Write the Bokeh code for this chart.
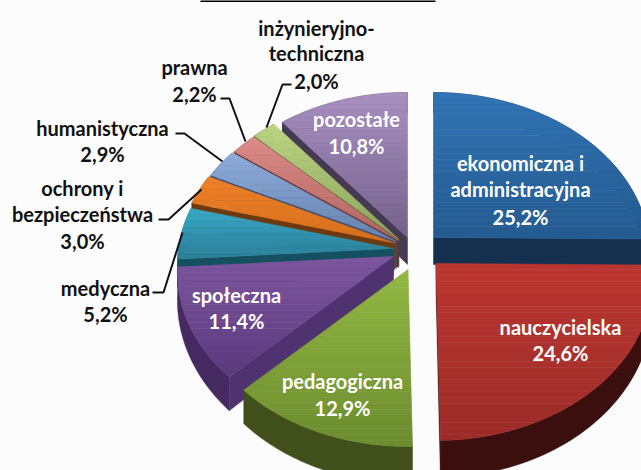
import numpy as np
from bokeh.plotting import figure
from bokeh.embed import file_html
from bokeh.resources import INLINE
from bokeh.core.properties import value

# --- data ---
categories = ["ekonomiczna i administracyjna", "nauczycielska", "pedagogiczna", "społeczna",
              "medyczna", "ochrony i bezpieczeństwa", "humanistyczna", "prawna",
              "inżynieryjno-techniczna", "pozostałe"]
shares = [25.2, 24.6, 12.9, 11.4, 5.2, 3.0, 2.9, 2.2, 2.0, 10.8]
share_labels = ["25,2%", "24,6%", "12,9%", "11,4%", "5,2%", "3,0%", "2,9%", "2,2%", "2,0%", "10,8%"]

# --- styling: top-light, top-dark, outer wall, cut face ---
styles = [("#3173b4", "#245b90", "#14304e", "#15304f"),
          ("#bb3530", "#9c2c28", "#3a0f0e", "#3a0f0e"),
          ("#92b843", "#6c8c2e", "#414f1b", "#414f1b"),
          ("#7c559f", "#5b3a7d", "#442a60", "#4f3370"),
          ("#37a6c4", "#2b8099", "#14505f", "#14505f"),
          ("#ee8027", "#d66f1c", "#6d3a10", "#6d3a10"),
          ("#8dabd8", "#6684b2", "#3c4d6f", "#3c4d6f"),
          ("#db8a86", "#b56662", "#5f3533", "#5f3533"),
          ("#bad482", "#8ca55b", "#4b5a2d", "#4b5a2d"),
          ("#a78fc0", "#75618c", "#463a52", "#463a52")]
apex = [(433, 237), (435.5, 263), (407.5, 269), (393, 256), (393, 248),
        (394, 242.5), (396, 241), (398, 240), (398.5, 239), (407, 237)]
draw_order = [0, 1, 9, 8, 7, 6, 5, 4, 3, 2]
RX, KY, D, DEPTH = 215.0, 159.4, 10.06, 27.0

W, H = 641, 470
p = figure(width=W, height=H, x_range=(0, W), y_range=(H, 0), output_backend="svg",
           toolbar_location=None, min_border=0)
p.axis.visible = False
p.grid.visible = False
p.outline_line_color = None
p.background_fill_color = "#fbfcfb"
p.border_fill_color = "#fbfcfb"


def project(a, deg, r=1.0):
    t = np.radians(deg)
    X, Z = r * np.sin(t), r * np.cos(t)
    s = D / (D + Z)
    return a[0] + RX * X * s, a[1] - KY * Z * s, DEPTH * s ** 3


def mix(c1, c2, f):
    a = [int(c1[i:i + 2], 16) for i in (1, 3, 5)]
    b = [int(c2[i:i + 2], 16) for i in (1, 3, 5)]
    return "#%02x%02x%02x" % tuple(int(round(u + (v - u) * f)) for u, v in zip(a, b))


def clip(xs, ys, y0, y1):
    pts = list(zip(xs, ys))
    for lim, sign in ((y0, 1), (y1, -1)):
        out = []
        for i in range(len(pts)):
            a, b = pts[i], pts[(i + 1) % len(pts)]
            ina, inb = sign * (a[1] - lim) >= 0, sign * (b[1] - lim) >= 0
            if ina:
                out.append(a)
            if ina != inb:
                f = (lim - a[1]) / (b[1] - a[1])
                out.append((a[0] + (b[0] - a[0]) * f, lim))
        pts = out
        if not pts:
            return [], []
    return [q[0] for q in pts], [q[1] for q in pts]


edges = np.cumsum([0] + shares) / sum(shares) * 360
for i in draw_order:
    a0, a1 = edges[i], edges[i + 1]
    a = apex[i]
    light, dark, wall, face = styles[i]
    ang = np.linspace(a0, a1, 60)
    ax, ay, ad = project(a, ang)
    # outer wall
    p.patch(list(ax) + list(ax[::-1]), list(ay) + list((ay + ad)[::-1]),
            fill_color=wall, line_color=wall, line_width=0.5)
    # visible cut face
    for ea, visible in ((a0, a0 > 180), (a1, a1 < 180)):
        if visible:
            ex, ey, ed = project(a, ea)
            p.patch([a[0], ex, ex, a[0]], [a[1], ey, ey + ed, a[1] + DEPTH],
                    fill_color=face, line_color=face, line_width=0.5)
    # top surface with a vertical gradient
    px, py = [a[0]] + list(ax), [a[1]] + list(ay)
    top, bot = min(py), max(py)
    steps = max(3, int((bot - top) / 6))
    bands = np.linspace(top, bot, steps + 1)
    for k in range(steps):
        bx, by = clip(px, py, bands[k], bands[k + 1])
        if bx:
            c = mix(light, dark, k / max(1, steps - 1))
            p.patch(bx, by, fill_color=c, line_color=c, line_width=0.6)

# frame rule at the top edge
p.line([200, 435], [0.5, 0.5], line_color="black", line_width=2)

# leader lines
leaders = [([152, 163, 182], [292, 292, 232]),
           ([158, 168, 201], [219, 219, 189]),
           ([175, 184, 222], [133, 133, 161]),
           ([220, 229, 245], [98, 98, 141]),
           ([291, 282, 266], [84, 84, 127])]
for lx, ly in leaders:
    p.line(lx, ly, line_color="#111111", line_width=2)

# labels
label_rows = [
    ("ekonomiczna i", 520, 162, "white"), ("administracyjna", 520, 188, "white"), (share_labels[0], 520, 216, "white"),
    (categories[1], 560, 326, "white"), (share_labels[1], 560, 352, "white"),
    (categories[2], 342, 380, "white"), (share_labels[2], 342, 407, "white"),
    (categories[3], 236, 294, "white"), (share_labels[3], 236, 320, "white"),
    (categories[9], 356, 118, "white"), (share_labels[9], 356, 145, "white"),
    (categories[4], 105, 287, "#111111"), (share_labels[4], 105, 313, "#111111"),
    ("ochrony i", 82, 187, "#111111"), ("bezpieczeństwa", 82, 213, "#111111"), (share_labels[5], 82, 240, "#111111"),
    (categories[6], 102, 127, "#111111"), (share_labels[6], 102, 153, "#111111"),
    (categories[7], 194, 66, "#111111"), (share_labels[7], 194, 93, "#111111"),
    ("inżynieryjno-", 316, 27, "#111111"), ("techniczna", 316, 52, "#111111"), (share_labels[8], 316, 80, "#111111"),
]
for t, x, y, c in label_rows:
    p.text([x], [y], text=[t], text_color=c, text_font=value("Lato"), text_font_style="bold",
           text_font_size="20px", text_align="center", text_baseline="middle")

open("out.html", "w").write(file_html(p, INLINE))
